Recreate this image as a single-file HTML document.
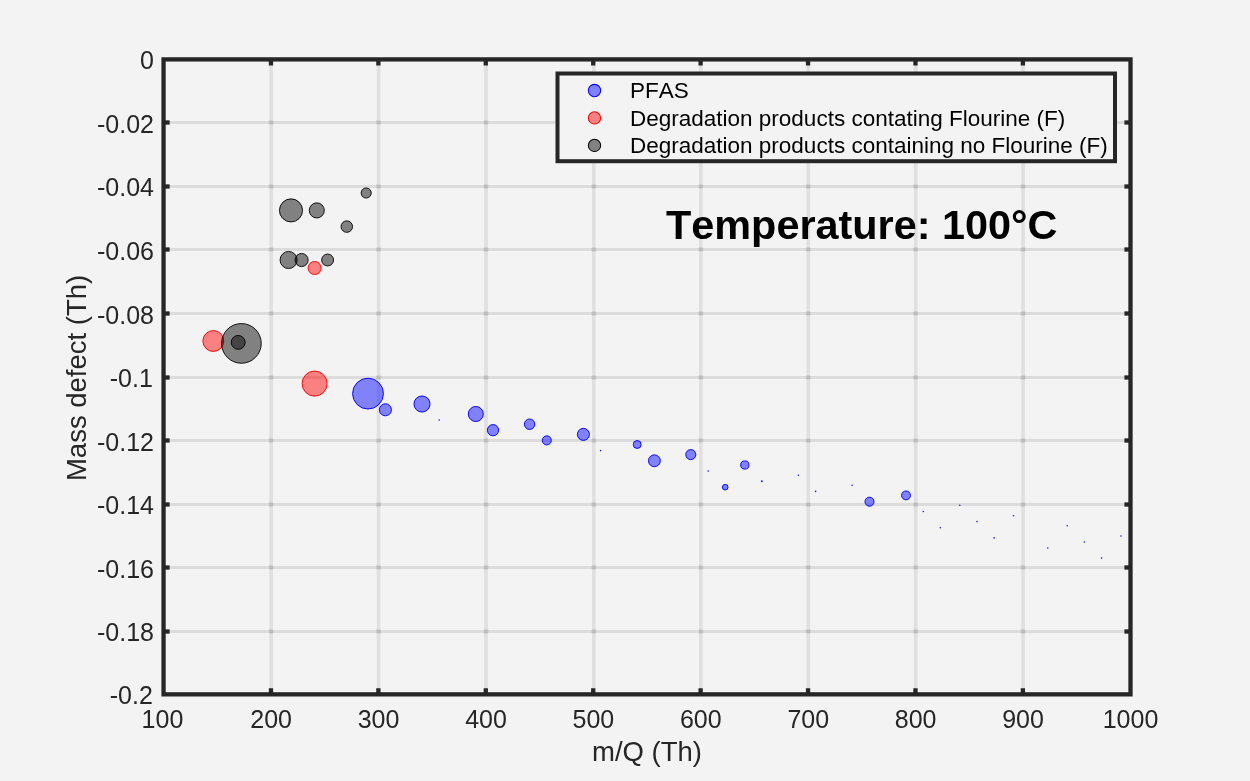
<!DOCTYPE html>
<html lang="en"><head><meta charset="utf-8"><title>Mass defect plot</title>
<style>html,body{margin:0;padding:0;background:#f3f3f3;}body{width:1250px;height:781px;overflow:hidden;}svg{display:block;}text{font-family:"Liberation Sans",Arial,Helvetica,sans-serif;font-kerning:none;}</style>
</head><body>
<svg width="1250" height="781" viewBox="0 0 1250 781">
<rect x="0" y="0" width="1250" height="781" fill="#f3f3f3"/>
<g fill="#000" stroke="none">
<g fill-opacity="0.08">
<rect x="269.32" y="59.40" width="3.7" height="634.95"/>
<rect x="376.73" y="59.40" width="3.7" height="634.95"/>
<rect x="484.15" y="59.40" width="3.7" height="634.95"/>
<rect x="591.97" y="59.40" width="3.7" height="634.95"/>
<rect x="698.99" y="59.40" width="3.7" height="634.95"/>
<rect x="806.40" y="59.40" width="3.7" height="634.95"/>
<rect x="913.82" y="59.40" width="3.7" height="634.95"/>
<rect x="1021.24" y="59.40" width="3.7" height="634.95"/>
</g>
<g fill-opacity="0.095">
<rect x="163.55" y="121.00" width="966.95" height="3.0"/>
<rect x="163.55" y="185.00" width="966.95" height="3.0"/>
<rect x="163.55" y="248.00" width="966.95" height="3.0"/>
<rect x="163.55" y="312.00" width="966.95" height="3.0"/>
<rect x="163.55" y="376.00" width="966.95" height="3.0"/>
<rect x="163.55" y="439.00" width="966.95" height="3.0"/>
<rect x="163.55" y="503.00" width="966.95" height="3.0"/>
<rect x="163.55" y="566.00" width="966.95" height="3.0"/>
<rect x="163.55" y="630.00" width="966.95" height="3.0"/>
</g>
<g fill-opacity="0.065">
<rect x="268.67" y="119.90" width="5" height="5.2" rx="1.4"/>
<rect x="268.67" y="183.90" width="5" height="5.2" rx="1.4"/>
<rect x="268.67" y="246.90" width="5" height="5.2" rx="1.4"/>
<rect x="268.67" y="310.90" width="5" height="5.2" rx="1.4"/>
<rect x="268.67" y="374.90" width="5" height="5.2" rx="1.4"/>
<rect x="268.67" y="437.90" width="5" height="5.2" rx="1.4"/>
<rect x="268.67" y="501.90" width="5" height="5.2" rx="1.4"/>
<rect x="268.67" y="564.90" width="5" height="5.2" rx="1.4"/>
<rect x="268.67" y="628.90" width="5" height="5.2" rx="1.4"/>
<rect x="376.08" y="119.90" width="5" height="5.2" rx="1.4"/>
<rect x="376.08" y="183.90" width="5" height="5.2" rx="1.4"/>
<rect x="376.08" y="246.90" width="5" height="5.2" rx="1.4"/>
<rect x="376.08" y="310.90" width="5" height="5.2" rx="1.4"/>
<rect x="376.08" y="374.90" width="5" height="5.2" rx="1.4"/>
<rect x="376.08" y="437.90" width="5" height="5.2" rx="1.4"/>
<rect x="376.08" y="501.90" width="5" height="5.2" rx="1.4"/>
<rect x="376.08" y="564.90" width="5" height="5.2" rx="1.4"/>
<rect x="376.08" y="628.90" width="5" height="5.2" rx="1.4"/>
<rect x="483.50" y="119.90" width="5" height="5.2" rx="1.4"/>
<rect x="483.50" y="183.90" width="5" height="5.2" rx="1.4"/>
<rect x="483.50" y="246.90" width="5" height="5.2" rx="1.4"/>
<rect x="483.50" y="310.90" width="5" height="5.2" rx="1.4"/>
<rect x="483.50" y="374.90" width="5" height="5.2" rx="1.4"/>
<rect x="483.50" y="437.90" width="5" height="5.2" rx="1.4"/>
<rect x="483.50" y="501.90" width="5" height="5.2" rx="1.4"/>
<rect x="483.50" y="564.90" width="5" height="5.2" rx="1.4"/>
<rect x="483.50" y="628.90" width="5" height="5.2" rx="1.4"/>
<rect x="591.32" y="119.90" width="5" height="5.2" rx="1.4"/>
<rect x="591.32" y="183.90" width="5" height="5.2" rx="1.4"/>
<rect x="591.32" y="246.90" width="5" height="5.2" rx="1.4"/>
<rect x="591.32" y="310.90" width="5" height="5.2" rx="1.4"/>
<rect x="591.32" y="374.90" width="5" height="5.2" rx="1.4"/>
<rect x="591.32" y="437.90" width="5" height="5.2" rx="1.4"/>
<rect x="591.32" y="501.90" width="5" height="5.2" rx="1.4"/>
<rect x="591.32" y="564.90" width="5" height="5.2" rx="1.4"/>
<rect x="591.32" y="628.90" width="5" height="5.2" rx="1.4"/>
<rect x="698.34" y="119.90" width="5" height="5.2" rx="1.4"/>
<rect x="698.34" y="183.90" width="5" height="5.2" rx="1.4"/>
<rect x="698.34" y="246.90" width="5" height="5.2" rx="1.4"/>
<rect x="698.34" y="310.90" width="5" height="5.2" rx="1.4"/>
<rect x="698.34" y="374.90" width="5" height="5.2" rx="1.4"/>
<rect x="698.34" y="437.90" width="5" height="5.2" rx="1.4"/>
<rect x="698.34" y="501.90" width="5" height="5.2" rx="1.4"/>
<rect x="698.34" y="564.90" width="5" height="5.2" rx="1.4"/>
<rect x="698.34" y="628.90" width="5" height="5.2" rx="1.4"/>
<rect x="805.75" y="119.90" width="5" height="5.2" rx="1.4"/>
<rect x="805.75" y="183.90" width="5" height="5.2" rx="1.4"/>
<rect x="805.75" y="246.90" width="5" height="5.2" rx="1.4"/>
<rect x="805.75" y="310.90" width="5" height="5.2" rx="1.4"/>
<rect x="805.75" y="374.90" width="5" height="5.2" rx="1.4"/>
<rect x="805.75" y="437.90" width="5" height="5.2" rx="1.4"/>
<rect x="805.75" y="501.90" width="5" height="5.2" rx="1.4"/>
<rect x="805.75" y="564.90" width="5" height="5.2" rx="1.4"/>
<rect x="805.75" y="628.90" width="5" height="5.2" rx="1.4"/>
<rect x="913.17" y="119.90" width="5" height="5.2" rx="1.4"/>
<rect x="913.17" y="183.90" width="5" height="5.2" rx="1.4"/>
<rect x="913.17" y="246.90" width="5" height="5.2" rx="1.4"/>
<rect x="913.17" y="310.90" width="5" height="5.2" rx="1.4"/>
<rect x="913.17" y="374.90" width="5" height="5.2" rx="1.4"/>
<rect x="913.17" y="437.90" width="5" height="5.2" rx="1.4"/>
<rect x="913.17" y="501.90" width="5" height="5.2" rx="1.4"/>
<rect x="913.17" y="564.90" width="5" height="5.2" rx="1.4"/>
<rect x="913.17" y="628.90" width="5" height="5.2" rx="1.4"/>
<rect x="1020.59" y="119.90" width="5" height="5.2" rx="1.4"/>
<rect x="1020.59" y="183.90" width="5" height="5.2" rx="1.4"/>
<rect x="1020.59" y="246.90" width="5" height="5.2" rx="1.4"/>
<rect x="1020.59" y="310.90" width="5" height="5.2" rx="1.4"/>
<rect x="1020.59" y="374.90" width="5" height="5.2" rx="1.4"/>
<rect x="1020.59" y="437.90" width="5" height="5.2" rx="1.4"/>
<rect x="1020.59" y="501.90" width="5" height="5.2" rx="1.4"/>
<rect x="1020.59" y="564.90" width="5" height="5.2" rx="1.4"/>
<rect x="1020.59" y="628.90" width="5" height="5.2" rx="1.4"/>
</g>
</g>
<g fill="#0000ff" fill-opacity="0.47" stroke="#0000ff" stroke-width="0.95">
<circle cx="368.0" cy="393.6" r="15.43"/>
<circle cx="385.4" cy="409.8" r="6.03"/>
<circle cx="422.0" cy="404.0" r="8.03"/>
<circle cx="439.2" cy="420.0" r="0.80" stroke="none" fill-opacity="0.9"/>
<circle cx="475.8" cy="414.0" r="7.53"/>
<circle cx="493.0" cy="430.2" r="5.62"/>
<circle cx="529.6" cy="424.2" r="5.23"/>
<circle cx="546.8" cy="440.4" r="4.53"/>
<circle cx="583.4" cy="434.4" r="6.03"/>
<circle cx="600.6" cy="450.6" r="0.80" stroke="none" fill-opacity="0.9"/>
<circle cx="637.2" cy="444.5" r="3.93"/>
<circle cx="654.4" cy="460.8" r="5.93"/>
<circle cx="690.8" cy="454.6" r="5.03"/>
<circle cx="708.2" cy="471.0" r="0.80" stroke="none" fill-opacity="0.9"/>
<circle cx="744.8" cy="465.0" r="4.12"/>
<circle cx="725.2" cy="487.2" r="2.82"/>
<circle cx="761.8" cy="481.2" r="1.00" stroke="none" fill-opacity="0.9"/>
<circle cx="798.4" cy="475.2" r="0.80" stroke="none" fill-opacity="0.9"/>
<circle cx="815.6" cy="491.4" r="0.80" stroke="none" fill-opacity="0.9"/>
<circle cx="852.1" cy="485.3" r="0.80" stroke="none" fill-opacity="0.9"/>
<circle cx="869.5" cy="501.7" r="4.53"/>
<circle cx="906.0" cy="495.4" r="4.43"/>
<circle cx="923.3" cy="511.5" r="0.80" stroke="none" fill-opacity="0.9"/>
<circle cx="959.8" cy="505.3" r="0.80" stroke="none" fill-opacity="0.9"/>
<circle cx="940.3" cy="527.8" r="0.80" stroke="none" fill-opacity="0.9"/>
<circle cx="977.0" cy="521.6" r="0.80" stroke="none" fill-opacity="0.9"/>
<circle cx="994.1" cy="537.9" r="0.80" stroke="none" fill-opacity="0.9"/>
<circle cx="1013.5" cy="515.8" r="0.80" stroke="none" fill-opacity="0.9"/>
<circle cx="1047.8" cy="548.0" r="0.80" stroke="none" fill-opacity="0.9"/>
<circle cx="1067.3" cy="525.7" r="0.80" stroke="none" fill-opacity="0.9"/>
<circle cx="1084.3" cy="542.0" r="0.80" stroke="none" fill-opacity="0.9"/>
<circle cx="1101.6" cy="558.1" r="0.80" stroke="none" fill-opacity="0.9"/>
<circle cx="1121.0" cy="536.0" r="0.80" stroke="none" fill-opacity="0.9"/>
</g>
<g fill="#ff0000" fill-opacity="0.47" stroke="#ff0000" stroke-width="0.95">
<circle cx="213.3" cy="341.0" r="10.43"/>
<circle cx="314.6" cy="383.6" r="12.53"/>
<circle cx="314.6" cy="268.0" r="6.53"/>
</g>
<g fill="#000000" fill-opacity="0.47" stroke="#000000" stroke-width="0.9">
<circle cx="291.0" cy="210.4" r="11.55"/>
<circle cx="316.8" cy="210.4" r="7.55"/>
<circle cx="366.2" cy="193.0" r="5.05"/>
<circle cx="346.8" cy="226.6" r="5.75"/>
<circle cx="288.6" cy="260.0" r="8.55"/>
<circle cx="301.6" cy="260.0" r="6.55"/>
<circle cx="327.6" cy="260.0" r="5.95"/>
<circle cx="241.4" cy="343.4" r="19.85"/>
<circle cx="238.2" cy="342.4" r="6.95"/>
</g>
<g stroke="#262626" stroke-width="4.3" fill="none" stroke-linecap="butt">
<rect x="163.55" y="59.40" width="966.95" height="634.95"/>
<line x1="270.97" y1="59.40" x2="270.97" y2="65.50"/>
<line x1="270.97" y1="694.35" x2="270.97" y2="688.25"/>
<line x1="378.38" y1="59.40" x2="378.38" y2="65.50"/>
<line x1="378.38" y1="694.35" x2="378.38" y2="688.25"/>
<line x1="485.80" y1="59.40" x2="485.80" y2="65.50"/>
<line x1="485.80" y1="694.35" x2="485.80" y2="688.25"/>
<line x1="593.22" y1="59.40" x2="593.22" y2="65.50"/>
<line x1="593.22" y1="694.35" x2="593.22" y2="688.25"/>
<line x1="700.63" y1="59.40" x2="700.63" y2="65.50"/>
<line x1="700.63" y1="694.35" x2="700.63" y2="688.25"/>
<line x1="808.05" y1="59.40" x2="808.05" y2="65.50"/>
<line x1="808.05" y1="694.35" x2="808.05" y2="688.25"/>
<line x1="915.47" y1="59.40" x2="915.47" y2="65.50"/>
<line x1="915.47" y1="694.35" x2="915.47" y2="688.25"/>
<line x1="1022.89" y1="59.40" x2="1022.89" y2="65.50"/>
<line x1="1022.89" y1="694.35" x2="1022.89" y2="688.25"/>
<line x1="163.55" y1="122.50" x2="169.65" y2="122.50"/>
<line x1="1130.50" y1="122.50" x2="1124.40" y2="122.50"/>
<line x1="163.55" y1="186.50" x2="169.65" y2="186.50"/>
<line x1="1130.50" y1="186.50" x2="1124.40" y2="186.50"/>
<line x1="163.55" y1="249.50" x2="169.65" y2="249.50"/>
<line x1="1130.50" y1="249.50" x2="1124.40" y2="249.50"/>
<line x1="163.55" y1="313.50" x2="169.65" y2="313.50"/>
<line x1="1130.50" y1="313.50" x2="1124.40" y2="313.50"/>
<line x1="163.55" y1="377.50" x2="169.65" y2="377.50"/>
<line x1="1130.50" y1="377.50" x2="1124.40" y2="377.50"/>
<line x1="163.55" y1="440.50" x2="169.65" y2="440.50"/>
<line x1="1130.50" y1="440.50" x2="1124.40" y2="440.50"/>
<line x1="163.55" y1="504.50" x2="169.65" y2="504.50"/>
<line x1="1130.50" y1="504.50" x2="1124.40" y2="504.50"/>
<line x1="163.55" y1="567.50" x2="169.65" y2="567.50"/>
<line x1="1130.50" y1="567.50" x2="1124.40" y2="567.50"/>
<line x1="163.55" y1="631.50" x2="169.65" y2="631.50"/>
<line x1="1130.50" y1="631.50" x2="1124.40" y2="631.50"/>
</g>
<g fill="#262626" font-size="25px">
<g text-anchor="middle">
<text x="162.45" y="728">100</text>
<text x="271.17" y="728">200</text>
<text x="378.58" y="728">300</text>
<text x="486.00" y="728">400</text>
<text x="593.42" y="728">500</text>
<text x="700.84" y="728">600</text>
<text x="808.25" y="728">700</text>
<text x="915.67" y="728">800</text>
<text x="1023.09" y="728">900</text>
<text x="1130.50" y="728">1000</text>
</g>
<g text-anchor="end">
<text x="154.0" y="68.50">0</text>
<text x="154.0" y="133.00">-0.02</text>
<text x="154.0" y="196.40">-0.04</text>
<text x="154.0" y="260.00">-0.06</text>
<text x="154.0" y="324.00">-0.08</text>
<text x="152.8" y="387.00">-0.1</text>
<text x="154.0" y="451.00">-0.12</text>
<text x="154.0" y="514.00">-0.14</text>
<text x="154.0" y="578.00">-0.16</text>
<text x="154.0" y="641.00">-0.18</text>
<text x="152.8" y="704.20">-0.2</text>
</g>
</g>
<g fill="#262626" font-size="27.5px" text-anchor="middle">
<text x="647.02" y="761">m/Q (Th)</text>
<text transform="translate(85.5,377.90) rotate(-90)">Mass defect (Th)</text>
</g>
<text x="666" y="239.4" font-size="41.4px" font-weight="bold" fill="#000">Temperature: 100°C</text>
<rect x="557.5" y="73.5" width="557.5" height="87.7" fill="#f3f3f3" stroke="#262626" stroke-width="4"/>
<g stroke-width="1.05" fill-opacity="0.47">
<circle cx="594.5" cy="90.5" r="6.15" fill="#0000ff" stroke="#0000ff"/>
<circle cx="594.5" cy="117.9" r="6.15" fill="#ff0000" stroke="#ff0000"/>
<circle cx="594.5" cy="145.4" r="6.15" fill="#000000" stroke="#000000"/>
</g>
<g fill="#000" font-size="22.5px">
<text x="630" y="98">PFAS</text>
<text x="630" y="125.6">Degradation products contating Flourine (F)</text>
<text x="630" y="153.1">Degradation products containing no Flourine (F)</text>
</g>
</svg>
</body></html>
